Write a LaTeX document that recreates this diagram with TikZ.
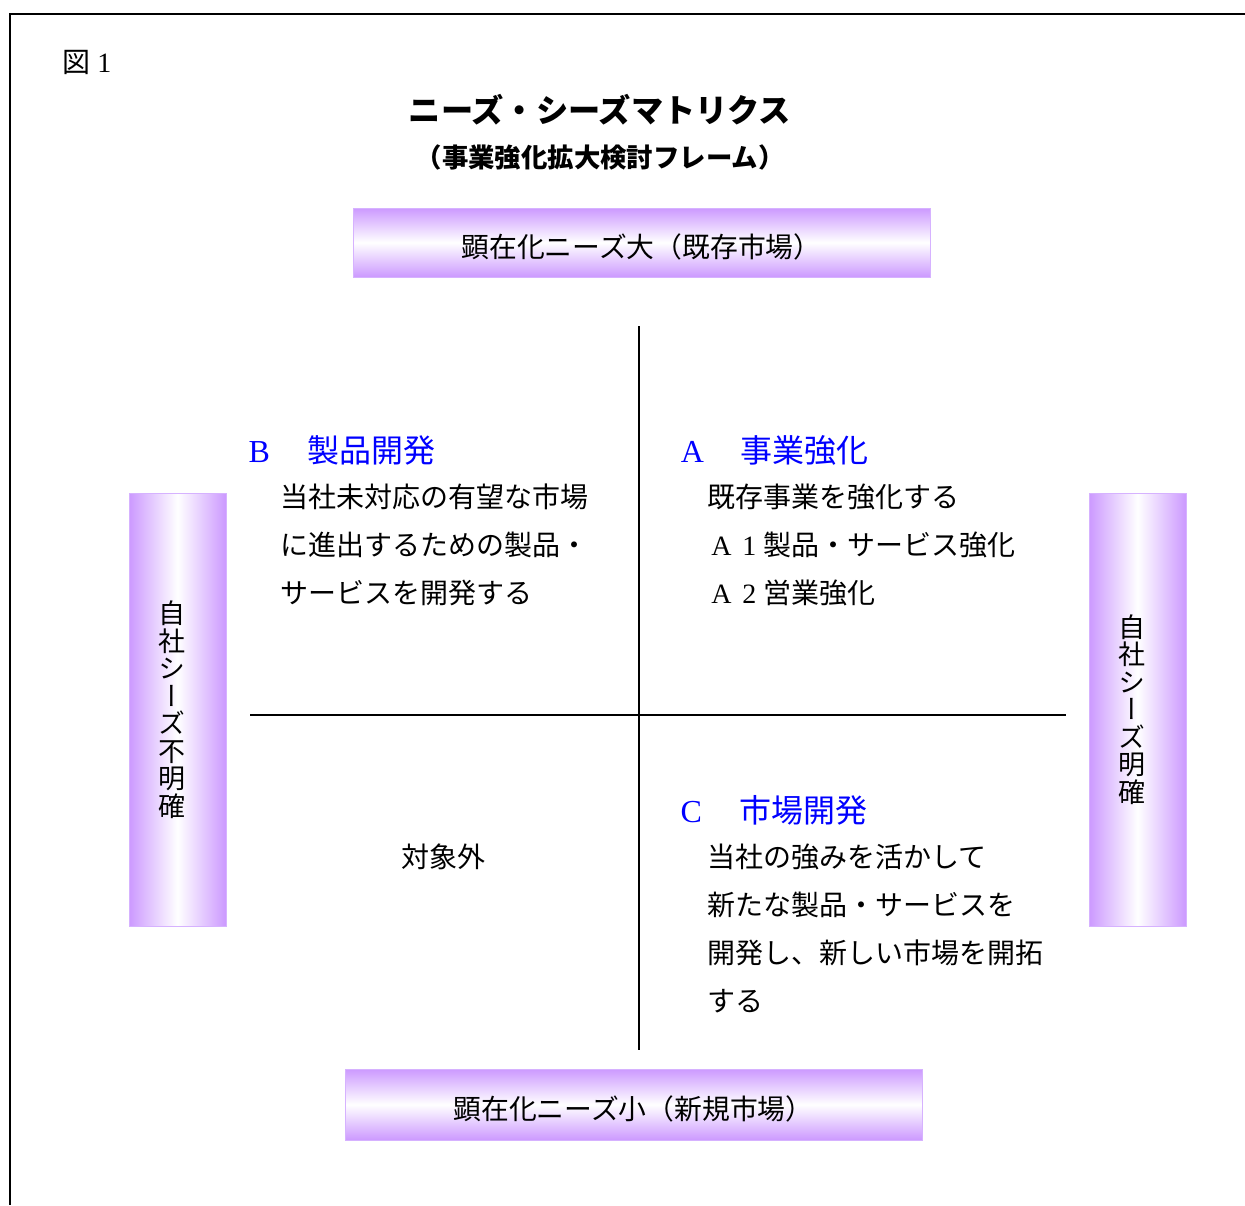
\documentclass[tikz,border=0pt]{standalone}
\usepackage{fontspec}
\setmainfont{Noto Sans CJK JP}
\newfontfamily\vertfont[RawFeature=+vert]{Noto Sans CJK JP}
\newfontfamily\latinserif{Liberation Serif}
\definecolor{barpurple}{RGB}{204,153,255}
\definecolor{barline}{RGB}{214,178,255}
\definecolor{headblue}{RGB}{0,0,255}
\newcommand{\fw}[1]{\makebox[1em][c]{\latinserif #1}}

\tikzset{
  bodytext/.style={inner sep=0pt, anchor=west, text height=12.3pt, text depth=1.7pt,
    font=\fontsize{14}{16}\selectfont},
  headtext/.style={inner sep=0pt, anchor=west, text height=14.1pt, text depth=1.9pt,
    text=headblue, font=\fontsize{16}{18}\selectfont},
  hbar/.style={draw=barline, top color=barpurple, bottom color=barpurple, middle color=white,
    minimum width=288.5pt, inner sep=0pt, text height=16.5pt, text depth=1.6pt,
    font=\fontsize{13.9}{15}\selectfont},
  vbar/.style={draw=barline, left color=barpurple, right color=barpurple, middle color=white,
    minimum width=48.5pt, minimum height=216.5pt, inner sep=0pt},
  vtext/.style={inner sep=0pt, align=center, xshift=-2.6pt,
    font=\vertfont\fontsize{13.5}{13.75}\selectfont},
}

\begin{document}
\begin{tikzpicture}[x=0.5pt, y=-0.5pt]
    \useasboundingbox (0,0) rectangle (1245,1205);

    % frame
    \draw[line width=1pt] (1245,14) -- (10,14) -- (10,1205);

    % titles
    \node[bodytext] (fig) at (62,62) {図\fw{1}};
    \node[inner sep=0pt, font=\bfseries\fontsize{16.1}{18}\selectfont] (title) at (600,110)
        {ニーズ・シーズマトリクス};
    \node[inner sep=0pt, font=\bfseries\fontsize{13.2}{15}\selectfont] (subtitle) at (600,157)
        {（事業強化拡大検討フレーム）};

    % axis bars
    \node[hbar, minimum height=34.5pt] (needbig) at (641.5,242.5) {顕在化ニーズ大（既存市場）};
    \node[hbar, minimum height=35.5pt] (needsmall) at (633.5,1104.5) {顕在化ニーズ小（新規市場）};
    \node[vbar] (seedsvague) at (177.5,709.5) {};
    \node[vtext] (seedsvaguetext) at (seedsvague.center) {自\\社\\シ\\ー\\ズ\\不\\明\\確};
    \node[vbar] (seedsclear) at (1137.5,709.5) {};
    \node[vtext] (seedscleartext) at (seedsclear.center) {自\\社\\シ\\ー\\ズ\\明\\確};

    % quadrant axes
    \coordinate (axtop) at (639,326);
    \coordinate (axbottom) at (639,1050);
    \coordinate (axleft) at (250,715);
    \coordinate (axright) at (1066,715);
    \draw[line width=1pt] (axtop) -- (axbottom);
    \draw[line width=1pt] (axleft) -- (axright);

    % B quadrant
    \node[headtext] (bhead) at (243,450) {\fw{B}　製品開発};
    \node[bodytext] (b1) at (280,497) {当社未対応の有望な市場};
    \node[bodytext] (b2) at (280,545) {に進出するための製品・};
    \node[bodytext] (b3) at (280,593) {サービスを開発する};

    % A quadrant
    \node[headtext] (ahead) at (676,450) {\fw{A}　事業強化};
    \node[bodytext] (a1) at (707,497) {既存事業を強化する};
    \node[bodytext] (a2) at (707,545) {\fw{A}\fw{1}製品・サービス強化};
    \node[bodytext] (a3) at (707,593) {\fw{A}\fw{2}営業強化};

    % C quadrant
    \node[headtext] (chead) at (675,810) {\fw{C}　市場開発};
    \node[bodytext] (c1) at (707,857) {当社の強みを活かして};
    \node[bodytext] (c2) at (707,905) {新たな製品・サービスを};
    \node[bodytext] (c3) at (707,953) {開発し、新しい市場を開拓};
    \node[bodytext] (c4) at (707,1001) {する};

    % outside
    \node[bodytext, anchor=center] (outside) at (443,857) {対象外};
\end{tikzpicture}
\end{document}
